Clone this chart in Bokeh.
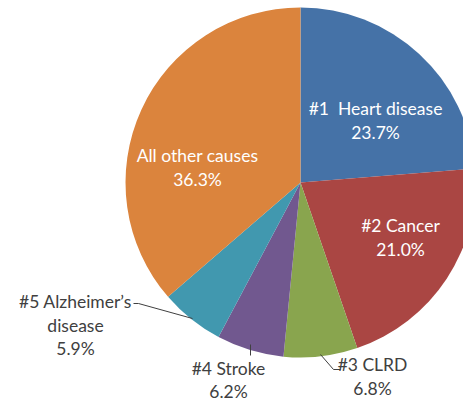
import math
from bokeh.plotting import figure
from bokeh.models import Range1d, ColumnDataSource
from bokeh.core.properties import value
from bokeh.embed import file_html
from bokeh.resources import INLINE

causes = ["#1\u00a0 Heart disease", "#2 Cancer", "#3 CLRD", "#4 Stroke", "#5 Alzheimer\u2019s disease", "All other causes"]
shares = [23.7, 21.0, 6.8, 6.2, 5.9, 36.3]
colors = ["#4572A7", "#AA4643", "#89A54E", "#71588F", "#4198AF", "#DB843D"]

W, H = 463, 401
cx, cy, r = 300, H - 182, 175

total = sum(shares)
starts, ends = [], []
acc = 0.0
for s in shares:
    starts.append(math.pi / 2 - 2 * math.pi * acc / total)
    acc += s
    ends.append(math.pi / 2 - 2 * math.pi * acc / total)

src = ColumnDataSource(dict(start=starts, end=ends, color=colors, cause=causes, share=shares))

p = figure(width=W, height=H, output_backend="svg", toolbar_location=None,
           x_range=Range1d(0, W), y_range=Range1d(0, H),
           min_border=0, outline_line_color=None)
p.axis.visible = False
p.grid.visible = False
p.background_fill_color = "white"

p.wedge(x=cx, y=cy, radius=r, start_angle="start", end_angle="end", direction="clock",
        fill_color="color", line_color=None, source=src)

# label layout (screen coords)
lab_pos = [(375, 108), (400, 225), (372, 364), (228, 368), (75, 301), (197, 155)]
inside = [True, True, False, False, False, True]
lx, ly, lt, lc = [], [], [], []
for i, (name, s) in enumerate(zip(causes, shares)):
    x, y = lab_pos[i]
    if i == 4:
        lines = ["#5 Alzheimer\u2019s", "disease", f"{s:.1f}%"]
    else:
        lines = [name, f"{s:.1f}%"]
    step = 22.5 if i == 3 else 23.5
    for k, t in enumerate(lines):
        lx.append(x)
        ly.append(H - (y + k * step))
        lt.append(t)
        lc.append("white" if inside[i] else "#404040")

p.text(x=lx, y=ly, text=lt, text_color=lc, text_align="center", text_baseline="middle",
       text_font=value("Lato"), text_font_size="17.5px")

# leader lines
p.multi_line(xs=[[133, 138, 192], [320, 333, 340], [250, 250]],
             ys=[[H - 303, H - 303, H - 318], [H - 354, H - 369, H - 369], [H - 344, H - 355]],
             line_color="#404040", line_width=1)

open("out.html", "w").write(file_html(p, INLINE))
